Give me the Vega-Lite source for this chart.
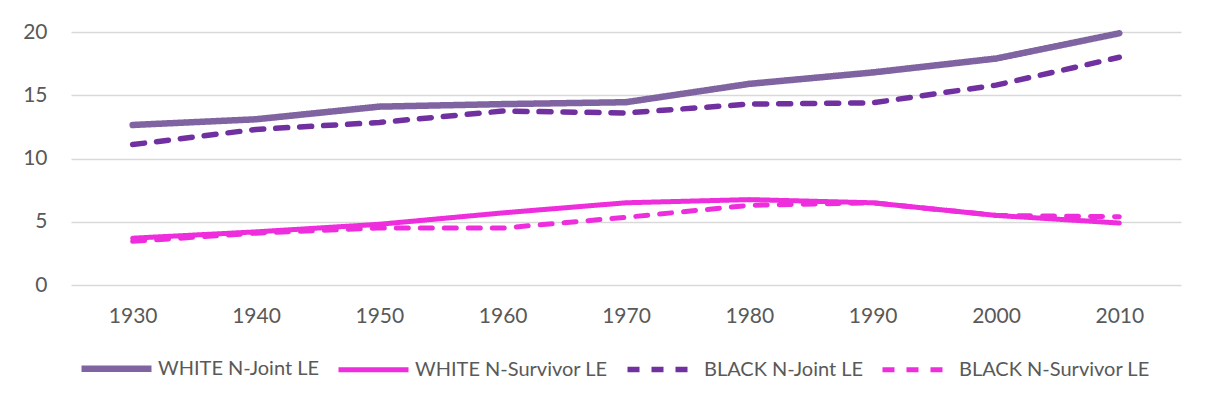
{
  "$schema": "https://vega.github.io/schema/vega-lite/v6.json",
  "width": 1110,
  "height": 253,
  "autosize": {"type": "none"},
  "padding": {"left": 71, "top": 32, "right": 24, "bottom": 119},
  "background": "white",
  "data": {"values": [
    {"year": "1930", "series": "WHITE N-Joint LE", "value": 12.65},
    {"year": "1940", "series": "WHITE N-Joint LE", "value": 13.1},
    {"year": "1950", "series": "WHITE N-Joint LE", "value": 14.1},
    {"year": "1960", "series": "WHITE N-Joint LE", "value": 14.3},
    {"year": "1970", "series": "WHITE N-Joint LE", "value": 14.45},
    {"year": "1980", "series": "WHITE N-Joint LE", "value": 15.9},
    {"year": "1990", "series": "WHITE N-Joint LE", "value": 16.8},
    {"year": "2000", "series": "WHITE N-Joint LE", "value": 17.9},
    {"year": "2010", "series": "WHITE N-Joint LE", "value": 19.9},
    {"year": "1930", "series": "WHITE N-Survivor LE", "value": 3.7},
    {"year": "1940", "series": "WHITE N-Survivor LE", "value": 4.2},
    {"year": "1950", "series": "WHITE N-Survivor LE", "value": 4.8},
    {"year": "1960", "series": "WHITE N-Survivor LE", "value": 5.7},
    {"year": "1970", "series": "WHITE N-Survivor LE", "value": 6.5},
    {"year": "1980", "series": "WHITE N-Survivor LE", "value": 6.75},
    {"year": "1990", "series": "WHITE N-Survivor LE", "value": 6.5},
    {"year": "2000", "series": "WHITE N-Survivor LE", "value": 5.5},
    {"year": "2010", "series": "WHITE N-Survivor LE", "value": 4.9},
    {"year": "1930", "series": "BLACK N-Joint LE", "value": 11.1},
    {"year": "1940", "series": "BLACK N-Joint LE", "value": 12.3},
    {"year": "1950", "series": "BLACK N-Joint LE", "value": 12.85},
    {"year": "1960", "series": "BLACK N-Joint LE", "value": 13.75},
    {"year": "1970", "series": "BLACK N-Joint LE", "value": 13.6},
    {"year": "1980", "series": "BLACK N-Joint LE", "value": 14.3},
    {"year": "1990", "series": "BLACK N-Joint LE", "value": 14.4},
    {"year": "2000", "series": "BLACK N-Joint LE", "value": 15.8},
    {"year": "2010", "series": "BLACK N-Joint LE", "value": 18.0},
    {"year": "1930", "series": "BLACK N-Survivor LE", "value": 3.45},
    {"year": "1940", "series": "BLACK N-Survivor LE", "value": 4.1},
    {"year": "1950", "series": "BLACK N-Survivor LE", "value": 4.5},
    {"year": "1960", "series": "BLACK N-Survivor LE", "value": 4.5},
    {"year": "1970", "series": "BLACK N-Survivor LE", "value": 5.35},
    {"year": "1980", "series": "BLACK N-Survivor LE", "value": 6.3},
    {"year": "1990", "series": "BLACK N-Survivor LE", "value": 6.5},
    {"year": "2000", "series": "BLACK N-Survivor LE", "value": 5.5},
    {"year": "2010", "series": "BLACK N-Survivor LE", "value": 5.4}
  ]},
  "mark": {"type": "line", "strokeCap": "round", "strokeJoin": "round"},
  "encoding": {
    "x": {
      "field": "year", "type": "ordinal",
      "scale": {"type": "point", "padding": 0.5},
      "axis": {"title": null, "labelAngle": 0, "domain": false, "ticks": false, "labelPadding": 20}
    },
    "y": {
      "field": "value", "type": "quantitative",
      "scale": {"domain": [0, 20], "nice": false, "zero": true},
      "axis": {"title": null, "values": [0, 5, 10, 15, 20], "domain": false, "ticks": false, "labelPadding": 24, "grid": true}
    },
    "color": {
      "field": "series", "type": "nominal",
      "scale": {
        "domain": ["WHITE N-Joint LE", "WHITE N-Survivor LE", "BLACK N-Joint LE", "BLACK N-Survivor LE"],
        "range": ["#8064A2", "#EE2EDC", "#7030A0", "#EE2EDC"]
      },
      "legend": {"title": null}
    },
    "strokeDash": {
      "field": "series", "type": "nominal",
      "scale": {
        "domain": ["WHITE N-Joint LE", "WHITE N-Survivor LE", "BLACK N-Joint LE", "BLACK N-Survivor LE"],
        "range": [[1, 0], [1, 0], [12, 12], [12, 12]]
      },
      "legend": {"title": null}
    },
    "strokeWidth": {
      "field": "series", "type": "nominal",
      "scale": {
        "type": "ordinal",
        "domain": ["WHITE N-Joint LE", "WHITE N-Survivor LE", "BLACK N-Joint LE", "BLACK N-Survivor LE"],
        "range": [6.5, 5, 5.5, 5]
      },
      "legend": {"title": null}
    },
    "order": {"field": "series", "sort": "descending"}
  },
  "config": {
    "font": "Lato",
    "view": {"stroke": null},
    "axis": {
      "labelFont": "Lato",
      "labelFontSize": 21,
      "labelColor": "#595959",
      "gridColor": "#D9D9D9",
      "gridWidth": 1.5
    },
    "legend": {
      "orient": "none",
      "legendX": 7,
      "legendY": 298,
      "direction": "horizontal",
      "columns": 4,
      "columnPadding": 8,
      "symbolType": "stroke",
      "symbolSize": 4900,
      "labelFont": "Lato",
      "labelFontSize": 20,
      "labelColor": "#595959",
      "labelOffset": 3,
      "labelLimit": 400
    }
  }
}
